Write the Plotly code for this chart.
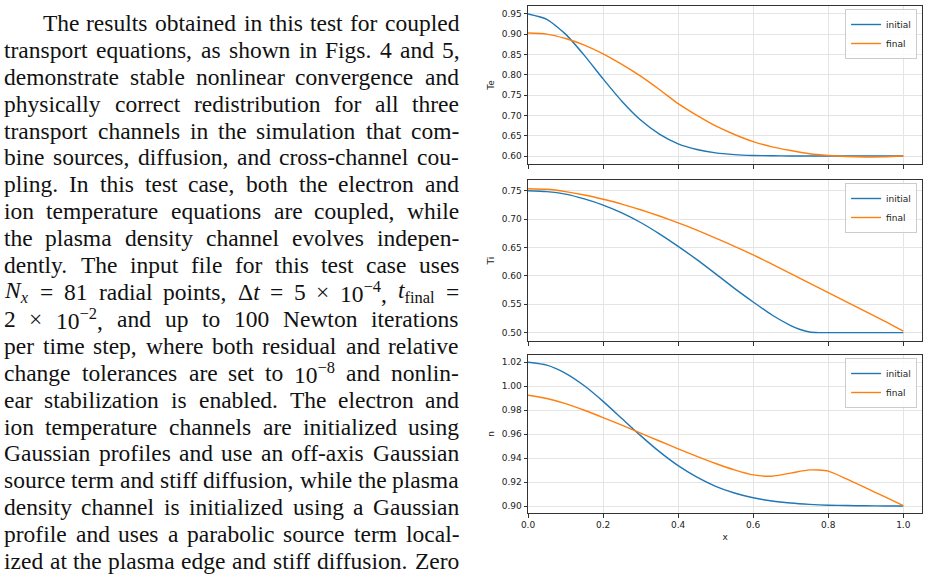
import re
import plotly.graph_objects as go

# ---------------- data ----------------
x_grid = [0.0, 0.05, 0.1, 0.15, 0.2, 0.25, 0.3, 0.35, 0.4, 0.45, 0.5,
          0.55, 0.6, 0.65, 0.7, 0.75, 0.8, 0.85, 0.9, 0.95, 1.0]

te_initial = [0.950, 0.937, 0.9004, 0.848, 0.790, 0.735, 0.6886, 0.654, 0.630, 0.616, 0.6077,
              0.6035, 0.6014, 0.6006, 0.6002, 0.6001, 0.6000, 0.6000, 0.6000, 0.6000, 0.6000]
te_final = [0.903, 0.9005, 0.8895, 0.8735, 0.852, 0.826, 0.797, 0.764, 0.729, 0.700, 0.674,
            0.653, 0.6355, 0.6225, 0.6135, 0.6055, 0.6012, 0.5988, 0.5977, 0.5979, 0.6000]

x_ti_initial = [0.0, 0.05, 0.1, 0.15, 0.2, 0.25, 0.3, 0.35, 0.4, 0.45, 0.5, 0.55,
                0.6, 0.65, 0.7, 0.725, 0.75, 0.775, 0.8, 0.85, 0.9, 0.95, 1.0]
ti_initial = [0.750, 0.7485, 0.744, 0.7355, 0.7247, 0.711, 0.694, 0.674, 0.652, 0.6285, 0.6035, 0.578,
              0.554, 0.531, 0.5125, 0.5055, 0.501, 0.500, 0.500, 0.500, 0.500, 0.500, 0.500]
ti_final = [0.7535, 0.7525, 0.7485, 0.7425, 0.735, 0.7265, 0.7165, 0.7055, 0.6935, 0.6805, 0.6665,
            0.652, 0.637, 0.6205, 0.604, 0.587, 0.5705, 0.5537, 0.537, 0.5202, 0.5025]

n_initial = [1.020, 1.0176, 1.0108, 1.0004, 0.9874, 0.9731, 0.9588, 0.9454, 0.9337, 0.9241, 0.9165,
             0.9109, 0.9069, 0.9042, 0.9025, 0.9014, 0.9007, 0.9004, 0.9002, 0.9001, 0.9000]
n_final = [0.9925, 0.9898, 0.9855, 0.9800, 0.9739, 0.9675, 0.9608, 0.9543, 0.9478, 0.9415, 0.9355,
           0.9302, 0.9260, 0.9249, 0.9275, 0.9302, 0.9292, 0.9225, 0.9152, 0.9078, 0.9003]

series_names = ["initial", "final"]
y_titles = ["Te", "Ti", "n"]
x_title = "x"
x_ticks = [0.0, 0.2, 0.4, 0.6, 0.8, 1.0]
te_ticks = [0.60, 0.65, 0.70, 0.75, 0.80, 0.85, 0.90, 0.95]
ti_ticks = [0.50, 0.55, 0.60, 0.65, 0.70, 0.75]
n_ticks = [0.90, 0.92, 0.94, 0.96, 0.98, 1.00, 1.02]

paragraph_lines = [
    "The results obtained in this test for coupled",
    "transport equations, as shown in Figs. 4 and 5,",
    "demonstrate stable nonlinear convergence and",
    "physically correct redistribution for all three",
    "transport channels in the simulation that com-",
    "bine sources, diffusion, and cross-channel cou-",
    "pling. In this test case, both the electron and",
    "ion temperature equations are coupled, while",
    "the plasma density channel evolves indepen-",
    "dently. The input file for this test case uses",
    "<i>N</i><sub><i>x</i></sub> = 81 radial points, Δ<i>t</i> = 5 × 10<sup>−4</sup>, <i>t</i><sub>final</sub> =",
    "2 × 10<sup>−2</sup>, and up to 100 Newton iterations",
    "per time step, where both residual and relative",
    "change tolerances are set to 10<sup>−8</sup> and nonlin-",
    "ear stabilization is enabled. The electron and",
    "ion temperature channels are initialized using",
    "Gaussian profiles and use an off-axis Gaussian",
    "source term and stiff diffusion, while the plasma",
    "density channel is initialized using a Gaussian",
    "profile and uses a parabolic source term local-",
    "ized at the plasma edge and stiff diffusion. Zero",
]

# ---------------- styling / layout constants ----------------
W_PX, H_PX = 929, 577
BLUE, ORANGE = "#1f77b4", "#ff7f0e"
X_L, X_R = 525, 922
PANELS = [(6, 164), (180, 341), (355, 513)]
Y_RANGES = [[0.5803, 0.9697], [0.4852, 0.7689], [0.8942, 1.0261]]
TICK_FONT = dict(family="DejaVu Sans", size=9, color="#222222")

TEXT_FS = 23.5
TEXT_L, TEXT_R, TEXT_INDENT = -3, 456, 39
LINE0, LINE_STEP = 23, 26.9
WIDTH_FUDGE = 1.016

_lower = dict(zip("abcdefghijklmnopqrstuvwxyz",
                  [444, 500, 444, 500, 444, 333, 500, 500, 278, 278, 500, 278, 778,
                   500, 500, 500, 500, 333, 389, 278, 500, 500, 722, 500, 500, 444]))
_upper = dict(zip("ABCDEFGHIJKLMNOPQRSTUVWXYZ",
                  [722, 667, 667, 722, 611, 556, 722, 722, 333, 389, 722, 611, 889,
                   722, 722, 556, 722, 667, 556, 611, 722, 722, 944, 722, 722, 611]))
_other = {" ": 250, ",": 250, ".": 250, "-": 333, "=": 564, "×": 564, "−": 564, "Δ": 612}


def est_width(html, fs):
    total = 0.0
    scale = 1.0
    for tok in re.split(r"(<[^>]+>)", html):
        if tok.startswith("<"):
            t = tok.lower()
            if t in ("<sub>", "<sup>"):
                scale = 0.7
            elif t in ("</sub>", "</sup>"):
                scale = 1.0
            continue
        for ch in tok:
            if ch.isdigit():
                w = 500
            else:
                w = _lower.get(ch, _upper.get(ch, _other.get(ch, 500)))
            total += w * scale
    return total / 1000.0 * fs * WIDTH_FUDGE


fig = go.Figure()

panel_data = [
    (x_grid, te_initial, x_grid, te_final),
    (x_ti_initial, ti_initial, x_grid, ti_final),
    (x_grid, n_initial, x_grid, n_final),
]
legend_ids = ["legend", "legend2", "legend3"]
for i, (xa, ya, xb, yb) in enumerate(panel_data):
    suffix = "" if i == 0 else str(i + 1)
    for xs, ys, name, col in ((xa, ya, series_names[0], BLUE), (xb, yb, series_names[1], ORANGE)):
        fig.add_trace(go.Scatter(
            x=xs, y=ys, name=name, mode="lines",
            line=dict(color=col, width=1.4, shape="spline", smoothing=0.6),
            xaxis="x" + suffix, yaxis="y" + suffix,
            legend=legend_ids[i], showlegend=True,
        ))

axis_common = dict(
    showline=True, mirror=True, linecolor="#333333", linewidth=1,
    showgrid=True, gridcolor="#e4e4e4", gridwidth=1,
    ticks="outside", ticklen=3.5, tickwidth=1, tickcolor="#333333",
    zeroline=False, tickfont=TICK_FONT,
)

layout = dict(
    width=W_PX, height=H_PX,
    margin=dict(l=0, r=0, t=0, b=0),
    paper_bgcolor="white", plot_bgcolor="white",
    showlegend=True,
)

y_tick_sets = [te_ticks, ti_ticks, n_ticks]
for i, (top, bot) in enumerate(PANELS):
    suffix = "" if i == 0 else str(i + 1)
    xd = [X_L / W_PX, X_R / W_PX]
    yd = [1 - bot / H_PX, 1 - top / H_PX]
    xa = dict(axis_common, domain=xd, anchor="y" + suffix, range=[0, 1.05],
              tickvals=x_ticks, tickformat=".1f", showticklabels=(i == 2))
    if i == 2:
        xa["title"] = dict(text=x_title, font=TICK_FONT, standoff=4)
    ya = dict(axis_common, domain=yd, anchor="x" + suffix, range=Y_RANGES[i],
              tickvals=y_tick_sets[i], tickformat=".2f",
              title=dict(text=y_titles[i], font=TICK_FONT, standoff=5))
    layout["xaxis" + suffix] = xa
    layout["yaxis" + suffix] = ya
    layout[legend_ids[i]] = dict(
        x=917 / W_PX, xanchor="right", y=1 - (top + 3) / H_PX, yanchor="top",
        bgcolor="rgba(255,255,255,0.85)", bordercolor="#cccccc", borderwidth=1,
        font=dict(family="DejaVu Sans", size=9, color="#222222"),
        itemwidth=30, tracegroupgap=0,
    )

# ---------------- justified paragraph as text ----------------
annotations = []
for li, line in enumerate(paragraph_lines):
    words = line.split(" ")
    left = TEXT_L + (TEXT_INDENT if li == 0 else 0)
    widths = [est_width(w, TEXT_FS) for w in words]
    gap = (TEXT_R - left - sum(widths)) / max(len(words) - 1, 1)
    ypx = LINE0 + LINE_STEP * li
    xpos = left
    for w, wd in zip(words, widths):
        annotations.append(dict(
            text=w, x=xpos / W_PX, y=1 - ypx / H_PX,
            xref="paper", yref="paper", xanchor="left",
            yanchor="middle", showarrow=False, borderpad=0, borderwidth=0,
            font=dict(family="Liberation Serif", size=TEXT_FS, color="#111111"),
        ))
        xpos += wd + gap
layout["annotations"] = annotations

fig.update_layout(**layout)
fig.write_html("out.html")
